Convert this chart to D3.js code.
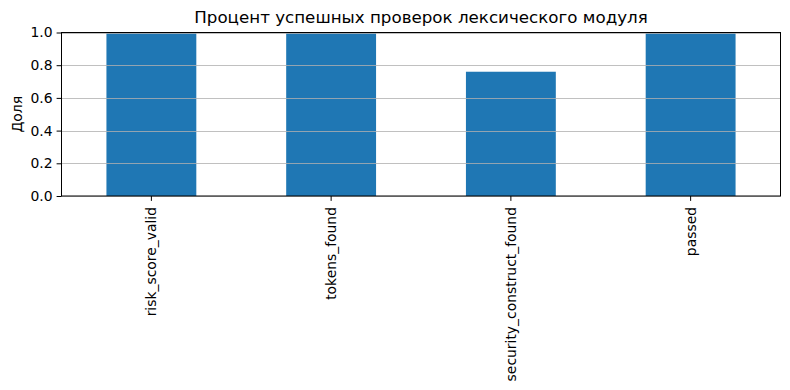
<!DOCTYPE html>
<html><head><meta charset="utf-8">
<script src="https://cdn.jsdelivr.net/npm/d3@7"></script>
<style>body{margin:0;background:#fff}svg{display:block;font-family:"DejaVu Sans",sans-serif}</style>
</head><body>
<script>
const categories = ["risk_score_valid", "tokens_found", "security_construct_found", "passed"];
const values = [1.0, 1.0, 0.76, 1.0];
const yTicks = [0.0, 0.2, 0.4, 0.6, 0.8, 1.0];
const title = "Процент успешных проверок лексического модуля";
const yLabel = "Доля";

const W = 790, H = 390;
const m = {left: 61.5, right: 9.5, top: 32.5, bottom: 194};
const svg = d3.select("body").append("svg").attr("width", W).attr("height", H);

const x = d3.scaleBand().domain(categories).range([m.left, W - m.right]).paddingInner(0.5).paddingOuter(0.25);
const y = d3.scaleLinear().domain([0, 1]).range([H - m.bottom, m.top]);

const bottomY = y(0);

svg.append("g").selectAll("rect").data(categories).join("rect")
  .attr("x", d => x(d)).attr("width", x.bandwidth())
  .attr("y", (d, i) => y(values[i])).attr("height", (d, i) => bottomY - y(values[i]))
  .attr("fill", "#1f77b4");

// grid
svg.append("g").selectAll("line").data(yTicks).join("line")
  .attr("x1", m.left).attr("x2", W - m.right)
  .attr("y1", d => Math.round(y(d)) + 0.5).attr("y2", d => Math.round(y(d)) + 0.5)
  .attr("stroke", "#b0b0b0").attr("stroke-width", 0.8);

// frame
svg.append("rect").attr("x", m.left).attr("y", m.top)
  .attr("width", W - m.right - m.left).attr("height", bottomY - m.top)
  .attr("fill", "none").attr("stroke", "#000").attr("stroke-width", 1);

// y axis
const ya = d3.axisLeft(y).tickValues(yTicks).tickFormat(d3.format(".1f")).tickSize(4.9).tickPadding(4);
const gy = svg.append("g").attr("transform", `translate(${m.left},0)`).call(ya);
gy.select(".domain").remove();
gy.selectAll("text").attr("font-size", 13.9).attr("fill", "#000").attr("font-family", "DejaVu Sans");
gy.selectAll("line").attr("stroke", "#000");

// x axis
const xa = d3.axisBottom(x).tickSize(4.9).tickPadding(0);
const gx = svg.append("g").attr("transform", `translate(0,${bottomY})`).call(xa);
gx.select(".domain").remove();
gx.selectAll("line").attr("stroke", "#000");
gx.selectAll("text").attr("font-size", 13.9).attr("fill", "#000").attr("font-family", "DejaVu Sans")
  .attr("transform", "rotate(-90)").attr("text-anchor", "end")
  .attr("x", -11).attr("y", 0).attr("dy", "0.35em");

svg.append("text").attr("x", (m.left + W - m.right) / 2).attr("y", 23)
  .attr("text-anchor", "middle").attr("font-size", 16.7).text(title);

svg.append("text").attr("transform", `translate(22,${(m.top + bottomY) / 2}) rotate(-90)`)
  .attr("text-anchor", "middle").attr("font-size", 13.9).text(yLabel);
</script>
</body></html>
